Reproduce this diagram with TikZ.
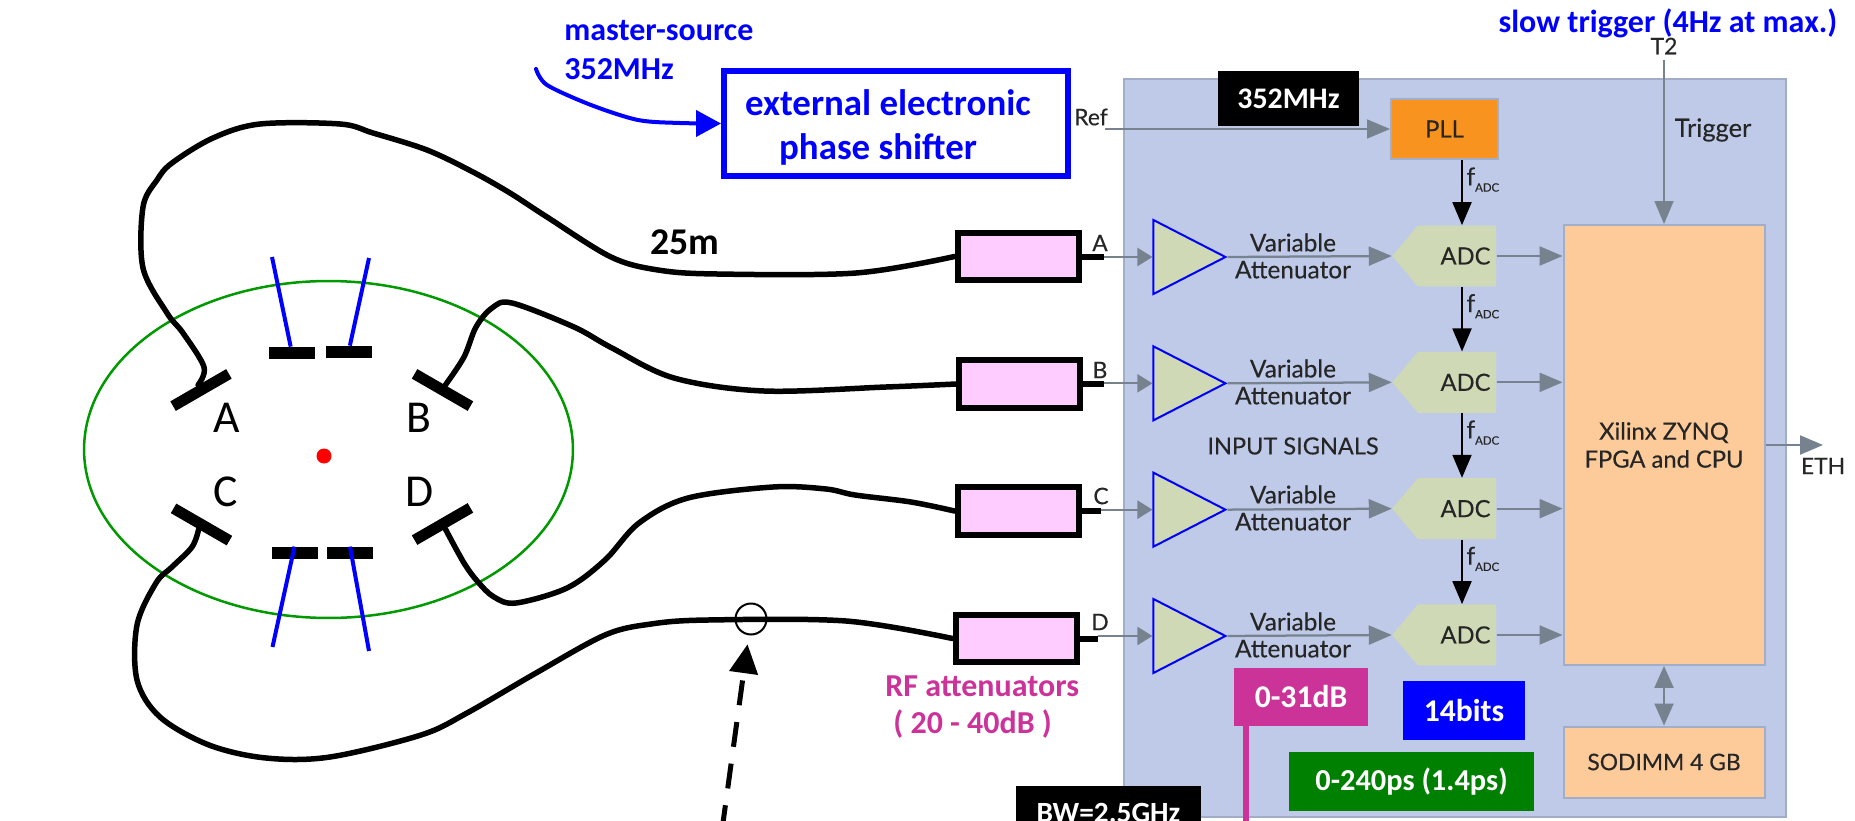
\documentclass[tikz,border=0pt]{standalone}
\usepackage{fontspec}
\setmainfont{Carlito}
\newfontfamily\panelfont{Lato}[FakeBold=0.25]
\usetikzlibrary{shapes,shapes.geometric,shapes.symbols,arrows.meta,positioning}
\definecolor{panelblue}{HTML}{BFCAE8}
\definecolor{paneledge}{HTML}{A2AEC8}
\definecolor{arrowgray}{HTML}{76838F}
\definecolor{ampgreen}{HTML}{CFD9B6}
\definecolor{fpgaorange}{HTML}{FCCB99}
\definecolor{pllorange}{HTML}{F7931E}
\definecolor{attpink}{HTML}{FFCCFF}
\definecolor{rfmagenta}{HTML}{CC3399}
\definecolor{chambergreen}{HTML}{009900}
\definecolor{darkgreen}{HTML}{008000}
\newcommand{\adc}[0]{\hspace*{.34cm}ADC}
\newcommand{\fadc}[0]{f\raisebox{-.5ex}{\fontsize{6.5}{7}\selectfont ADC}}
\tikzstyle{panel} = [draw=paneledge, fill=panelblue, line width=.05cm, minimum width=13.24cm, minimum height=14.76cm]
\tikzstyle{fpgabox} = [draw=paneledge, fill=fpgaorange, line width=.04cm, font=\panelfont\fontsize{13.5}{15.9}\selectfont, text=black!85, align=center]
\tikzstyle{pllbox} = [draw=paneledge, fill=pllorange, line width=.04cm, minimum width=2.14cm, minimum height=1.2cm, font=\panelfont\fontsize{13.5}{15}\selectfont, text=black!85]
\tikzstyle{adcbox} = [signal, signal to=west, signal pointer angle=100, fill=ampgreen, minimum width=2.08cm, minimum height=1.22cm, inner sep=0pt, font=\panelfont\fontsize{13.5}{15}\selectfont, text=black!85, node distance=2.527cm]
\tikzstyle{ampbox} = [isosceles triangle, isosceles triangle apex angle=55, isosceles triangle stretches, draw=blue, fill=ampgreen, line width=.04cm, minimum width=1.48cm, minimum height=1.44cm, inner sep=0pt, node distance=2.527cm]
\tikzstyle{panellabel} = [font=\panelfont\fontsize{13.9}{15.3}\selectfont, text=black!85, align=center, inner sep=0pt]
\tikzstyle{smalllabel} = [font=\panelfont\fontsize{13}{14}\selectfont, text=black!85, inner sep=0pt]
\tikzstyle{fadclabel} = [font=\panelfont\fontsize{14}{14}\selectfont, text=black!85, right, pos=.3, inner sep=2pt]
\tikzstyle{attbox} = [draw=black, fill=attpink, line width=.12cm, minimum width=2.42cm, minimum height=.95cm, inner sep=0pt]
\tikzstyle{tag} = [text=white, font=\bfseries\fontsize{18}{20}\selectfont, inner sep=0pt]
\tikzstyle{bluetext} = [text=blue, font=\bfseries\fontsize{18.2}{22}\selectfont, inner sep=0pt, align=left]
\tikzstyle{pad} = [fill=black, minimum width=.92cm, minimum height=.24cm, inner sep=0pt]
\tikzstyle{sidepad} = [fill=black, minimum width=1.29cm, minimum height=.22cm, inner sep=0pt]
\tikzstyle{padname} = [font=\fontsize{26}{28}\selectfont, inner sep=0pt]
\tikzstyle{cable} = [draw, line width=.11cm, line join=round, line cap=round]
\tikzstyle{stub} = [draw, line width=.12cm]
\tikzstyle{rod} = [draw=blue, line width=.08cm]
\tikzstyle{line} = [draw=arrowgray, line width=.045cm, -{Triangle[length=.46cm,width=.38cm]}]
\tikzstyle{inline} = [draw=arrowgray, line width=.045cm, -{Triangle[length=.3cm,width=.36cm]}]
\tikzstyle{blackline} = [draw=black, line width=.04cm, -{Triangle[length=.46cm,width=.38cm]}]

\begin{document}
\begin{tikzpicture}[x=0.02cm, y=-0.02cm]
\useasboundingbox (0,0) rectangle (1855,821);

% readout box
\node [panel] (panel) at (1455,448) {};

\node [pllbox] (pll) at (1444.5,129) {PLL};
\node [fpgabox, minimum width=4.02cm, minimum height=8.8cm] (fpga) at (1664,445) {Xilinx ZYNQ\\FPGA and CPU};
\node [fpgabox, minimum width=4.02cm, minimum height=1.42cm, font=\panelfont\fontsize{13}{15}\selectfont] (sodimm) at (1664,762) {SODIMM 4 GB};

\node [ampbox] (ampA) at (1176,257) {};
\node [ampbox, below of=ampA] (ampB) {};
\node [ampbox, below of=ampB] (ampC) {};
\node [ampbox, below of=ampC] (ampD) {};

\node [adcbox] (adcA) at (1457,256) {\adc};
\node [adcbox, below of=adcA] (adcB) {\adc};
\node [adcbox, below of=adcB] (adcC) {\adc};
\node [adcbox, below of=adcC] (adcD) {\adc};

% gray arrows
\path [line] (ampA.east) -- (adcA.west);
\path [line] (ampB.east) -- (adcB.west);
\path [line] (ampC.east) -- (adcC.west);
\path [line] (ampD.east) -- (adcD.west);

\path [line] (adcA.east) -- (adcA.east -| fpga.west);
\path [line] (adcB.east) -- (adcB.east -| fpga.west);
\path [line] (adcC.east) -- (adcC.east -| fpga.west);
\path [line] (adcD.east) -- (adcD.east -| fpga.west);

\node [panellabel] (varA) at (1293,256) {Variable\\Attenuator};
\node [panellabel] (varB) at (1293,382) {Variable\\Attenuator};
\node [panellabel] (varC) at (1293,508) {Variable\\Attenuator};
\node [panellabel] (varD) at (1293,635) {Variable\\Attenuator};
\node [panellabel, font=\panelfont\fontsize{13.4}{15}\selectfont] (inputs) at (1293,446) {INPUT SIGNALS};

% clock chain
\path [blackline] ([xshift=.35cm]pll.south) -- node [fadclabel] {\fadc} ([xshift=.35cm]pll.south |- adcA.north);
\path [blackline] ([xshift=.1cm]adcA.south) -- node [fadclabel] {\fadc} ([xshift=.1cm]adcB.north);
\path [blackline] ([xshift=.1cm]adcB.south) -- node [fadclabel] {\fadc} ([xshift=.1cm]adcC.north);
\path [blackline] ([xshift=.1cm]adcC.south) -- node [fadclabel] {\fadc} ([xshift=.1cm]adcD.north);

\node [smalllabel] (ref) at (1091,117) {Ref};
\coordinate (refin) at (1105,129);
\path [line, line width=.03cm] (refin) -- (pll.west);

\node [smalllabel] (t2) at (1664,46) {T2};
\path [line, line width=.03cm] ([yshift=-.1cm]t2.south) -- (fpga.north);
\node [panellabel, font=\panelfont\fontsize{14.5}{15}\selectfont] (trigger) at (1713,130) {Trigger};

\coordinate (eth) at (1823,445);
\path [line] (fpga.east) -- (eth);
\node [smalllabel] (ethlabel) at (1823,466) {ETH};
\path [line, {Triangle[length=.44cm,width=.38cm]}-{Triangle[length=.44cm,width=.38cm]}] (fpga.south) -- (sodimm.north);

% attenuators
\node [attbox] (attA) at (1018,256.5) {};
\node [attbox] (attB) at (1019.5,384) {};
\node [attbox] (attC) at (1018,511) {};
\node [attbox] (attD) at (1016,638.5) {};

\path [stub] (attA.east) -- ++(22,0) coordinate (outA);
\path [stub] (attB.east) -- ++(21,0) coordinate (outB);
\path [stub] (attC.east) -- ++(19,0) coordinate (outC);
\path [stub] (attD.east) -- ++(18,0) coordinate (outD);

\path [inline] (ampA.west -| outA) -- (ampA.west);
\path [inline] (ampB.west -| outB) -- (ampB.west);
\path [inline] (ampC.west -| outC) -- (ampC.west);
\path [inline] (ampD.west -| outD) -- (ampD.west);

\node [smalllabel] (nameA) at (1100,243) {A};
\node [smalllabel] (nameB) at (1100,370) {B};
\node [smalllabel] (nameC) at (1101,496) {C};
\node [smalllabel] (nameD) at (1100,622) {D};

% tags
\node [tag, fill=black, minimum width=2.82cm, minimum height=1.1cm, font=\bfseries\fontsize{17}{18}\selectfont] (clock) at (1288.5,98.5) {352MHz};
\node [tag, fill=rfmagenta, minimum width=2.68cm, minimum height=1.16cm] (dbtag) at (1301,697) {0-31dB};
\coordinate (dbend) at (1246,830);
\path [draw=rfmagenta, line width=.12cm] (dbend |- dbtag.south) -- (dbend);
\node [tag, fill=blue, minimum width=2.44cm, minimum height=1.18cm] (bits) at (1464,710.5) {14bits};
\node [tag, fill=darkgreen, minimum width=4.9cm, minimum height=1.18cm, font=\bfseries\fontsize{17.3}{20}\selectfont] (delay) at (1411.5,781.5) {0-240ps (1.4ps)};
\node [tag, fill=black, minimum width=3.7cm, minimum height=1.08cm, font=\bfseries\fontsize{16.7}{18}\selectfont] (bw) at (1108.5,813) {BW=2.5GHz};

% phase shifter
\node [draw=blue, line width=.12cm, minimum width=6.88cm, minimum height=2.1cm] (shifter) at (896,123.5) {};
\node [bluetext, font=\bfseries\fontsize{21}{21}\selectfont] (shiftA) at (888,103) {external electronic};
\node [bluetext, font=\bfseries\fontsize{21}{21}\selectfont] (shiftB) at (878,149) {phase shifter};
\node [bluetext, anchor=west] (source) at (564,50) {master-source\\352MHz};
\coordinate (srcin) at (536,69);
\path [draw=blue, line width=.08cm, line cap=round, -{Triangle[length=.5cm,width=.52cm]}] plot [smooth, tension=.5] coordinates {(srcin) (547,85) (591,105) (638,120) (680,123) (shifter.west)};

\node [bluetext] (slow) at (1668,23) {slow trigger (4Hz at max.)};

% pickup
\node [ellipse, draw=chambergreen, line width=.05cm, minimum width=9.78cm, minimum height=6.74cm, inner sep=0pt] (chamber) at (328.5,449.5) {};
\node [circle, fill=red, minimum size=.3cm, inner sep=0pt] (beam) at (324,456) {};

\node [pad] (padTa) at (292,353) {};
\node [pad] (padTb) at (348.5,352) {};
\node [pad] (padBa) at (294.5,553) {};
\node [pad] (padBb) at (350,553) {};

\node [sidepad, rotate=30] (padA) at (201,390) {};
\node [sidepad, rotate=-30] (padB) at (442.5,390) {};
\node [sidepad, rotate=-30] (padC) at (201.5,524.5) {};
\node [sidepad, rotate=30] (padD) at (442.5,524) {};

\node [padname] (labelA) at (227,418) {A};
\node [padname] (labelB) at (419,418) {B};
\node [padname] (labelC) at (226,492) {C};
\node [padname] (labelD) at (420,492) {D};

\coordinate (rodTa) at (272,257);
\coordinate (rodTb) at (369,258);
\coordinate (rodBa) at (272.5,647);
\coordinate (rodBb) at (369,651);
\path [rod] (rodTa) -- (padTa);
\path [rod] (rodTb) -- (padTb);
\path [rod] (rodBa) -- (padBa.north);
\path [rod] (rodBb) -- (padBb.north);

% cables
\path [cable] plot [smooth, tension=.55] coordinates {(padA.north) (204,367) (183,333) (167,313) (143,268) (143,207) (157,180) (172,163) (213,138) (260,124) (340,124) (373,133) (427,150) (473,172) (510,193) (547,217) (611,257) (658,270) (717,274) (856,273) (attA.west)};
\path [cable] plot [smooth, tension=.55] coordinates {(padB.north) (464,357) (476,327) (492,308) (512,303) (574,327) (612,348) (674,378) (764,391) (886,387) (attB.west)};
\path [cable] plot [smooth, tension=.55] coordinates {(padD.south) (464,563) (478,582) (494,597) (516,603) (567,588) (605,560) (639,523) (688,498) (773,487) (826,489) (855,495) (911,502) (attC.west)};
\path [cable] plot [smooth, tension=.55] coordinates {(padC.south) (192,547) (172,567) (156,583) (137,625) (137,680) (160,717) (209,745) (266,758) (330,757) (421,735) (467,713) (536,673) (605,635) (651,624) (708,620) (846,621) (attD.west)};

\node [font=\bfseries\fontsize{21.5}{22}\selectfont, inner sep=0pt] (length) at (685,242) {25m};

\node [circle, draw=black, line width=.04cm, minimum size=.62cm, inner sep=0pt] (tap) at (751,619) {};
\coordinate (probe) at (722,830);
\path [draw=black, line width=.1cm, dash pattern=on .5cm off .34cm, shorten >=.18cm, -{Triangle[length=.58cm,width=.56cm]}] (probe) -- (tap);

\node [text=rfmagenta, font=\bfseries\fontsize{18.2}{21.5}\selectfont, inner sep=0pt, align=left, anchor=west] (rflabel) at (885,707) {RF attenuators\\\hspace*{.16cm}( 20 - 40dB )};

\end{tikzpicture}
\end{document}
